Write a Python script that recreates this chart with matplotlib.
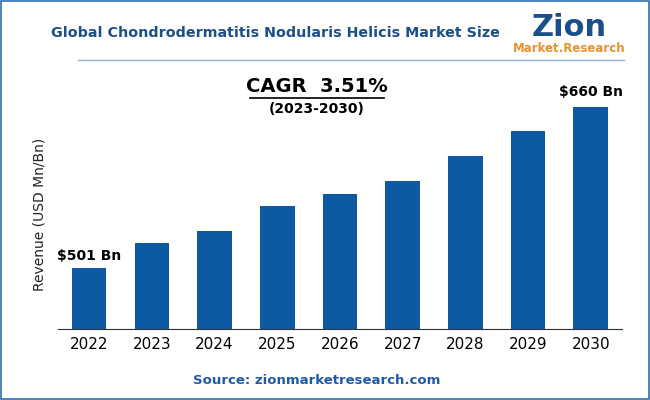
import matplotlib.pyplot as plt
from matplotlib.patches import Rectangle
from matplotlib.lines import Line2D

years = ['2022', '2023', '2024', '2025', '2026', '2027', '2028', '2029', '2030']
revenue = [501, 526, 537.5, 562, 574, 587, 612, 636, 660]

bar_color = '#0d5aa2'
dark = '#1b4f8a'

fig = plt.figure(figsize=(6.5, 4.0), dpi=100)
ax = fig.add_axes([0.089, 0.1775, 0.868, 0.5725])
ax.bar(years, revenue, width=0.55, color=bar_color)
ax.set_ylim(441, 667)
ax.set_xlim(-0.5, len(years) - 0.5)
ax.set_yticks([])
for s in ['top', 'right', 'left']:
    ax.spines[s].set_visible(False)
ax.spines['bottom'].set_color('#333333')
ax.tick_params(axis='x', length=0, labelsize=11, pad=6)
ax.set_ylabel('Revenue (USD Mn/Bn)', fontsize=10, color='#222222', labelpad=8)

ax.text(0, revenue[0] + 5, '$501 Bn', ha='center', va='bottom', fontsize=10, fontweight='bold')
ax.text(8, revenue[-1] + 8, '$660 Bn', ha='center', va='bottom', fontsize=10, fontweight='bold')

fig.patches.append(Rectangle((0.002, 0.003), 0.996, 0.994, transform=fig.transFigure,
                             fill=False, edgecolor='#2e6fb5', linewidth=1.2))
fig.text(0.423, 0.918, 'Global Chondrodermatitis Nodularis Helicis Market Size',
         ha='center', va='center', fontsize=10.3, fontweight='bold', color=dark)
fig.lines.append(Line2D([0.12, 0.96], [0.85, 0.85], transform=fig.transFigure,
                        color='#8fb3d9', linewidth=1))
fig.text(0.875, 0.93, 'Zion', ha='center', va='center', fontsize=22, fontweight='bold', color=dark)
fig.text(0.875, 0.88, 'Market.Research', ha='center', va='center', fontsize=8.5,
         fontweight='bold', color='#e8912d')

fig.text(0.487, 0.785, 'CAGR  3.51%', ha='center', va='center', fontsize=14, fontweight='bold')
fig.lines.append(Line2D([0.385, 0.59], [0.755, 0.755], transform=fig.transFigure,
                        color='black', linewidth=1.2))
fig.text(0.487, 0.728, '(2023-2030)', ha='center', va='center', fontsize=10, fontweight='bold')

fig.text(0.487, 0.05, 'Source: zionmarketresearch.com', ha='center', va='center',
         fontsize=9.5, fontweight='bold', color='#1f5aa6')

fig.savefig('out.png', dpi=100)
